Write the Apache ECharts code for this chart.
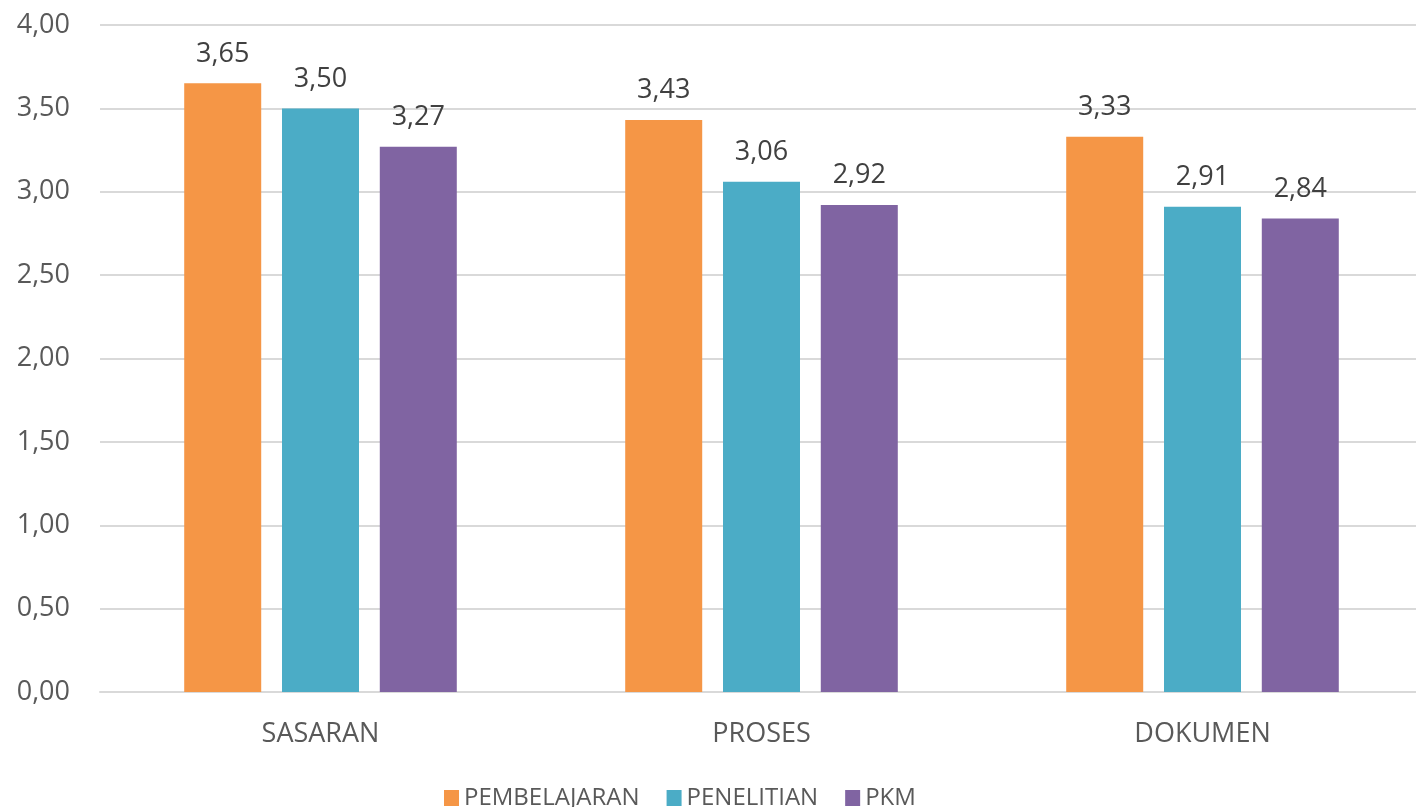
<!DOCTYPE html>
<html>
<head>
<meta charset="utf-8">
<script src="https://cdn.jsdelivr.net/npm/echarts@6/dist/echarts.min.js"></script>
<style>
  html, body { margin: 0; padding: 0; background: #fff; overflow: hidden; }
  #chart-container { width: 1424px; height: 807px; }
</style>
</head>
<body>
<div id="chart-container"></div>
<script>
const categories = ['SASARAN', 'PROSES', 'DOKUMEN'];
const pembelajaran = [3.65, 3.43, 3.33];
const penelitian = [3.50, 3.06, 2.91];
const pkm = [3.27, 2.92, 2.84];
const yTicks = [0, 0.5, 1, 1.5, 2, 2.5, 3, 3.5, 4];

const fmt = v => Number(v).toFixed(2).replace('.', ',');
const font = '"Open Sans", "Noto Sans", sans-serif';

const myChart = echarts.init(document.getElementById('chart-container'));

function barSeries(name, data, color) {
    return {
        name: name,
        type: 'bar',
        data: data,
        barWidth: 77,
        barGap: '27%',
        itemStyle: { color: color },
        label: {
            show: true,
            position: 'top',
            distance: 16,
            color: '#404040',
            fontSize: 27,
            fontFamily: font,
            formatter: p => fmt(p.value)
        }
    };
}

const option = {
    animation: false,
    backgroundColor: '#fff',
    grid: { left: 100, top: 25, width: 1323, height: 667, containLabel: false },
    legend: {
        top: 781,
        left: 439,
        itemWidth: 15,
        itemHeight: 16,
        itemGap: 27,
        icon: 'rect',
        textStyle: { color: '#595959', fontSize: 24, fontFamily: font }
    },
    xAxis: {
        type: 'category',
        data: categories,
        axisLine: { lineStyle: { color: '#d9d9d9', width: 2 } },
        axisTick: { show: false },
        axisLabel: { color: '#595959', fontSize: 27, fontFamily: font, margin: 29 }
    },
    yAxis: {
        type: 'value',
        min: yTicks[0],
        max: yTicks[yTicks.length - 1],
        interval: 0.5,
        axisLine: { show: false },
        axisTick: { show: false },
        splitLine: { lineStyle: { color: '#d9d9d9', width: 2 } },
        axisLabel: { color: '#595959', fontSize: 27, fontFamily: font, margin: 30, formatter: v => fmt(v) }
    },
    series: [
        barSeries('PEMBELAJARAN', pembelajaran, '#F59646'),
        barSeries('PENELITIAN', penelitian, '#4BACC6'),
        barSeries('PKM', pkm, '#8064A2')
    ]
};

option && myChart.setOption(option);
</script>
</body>
</html>
